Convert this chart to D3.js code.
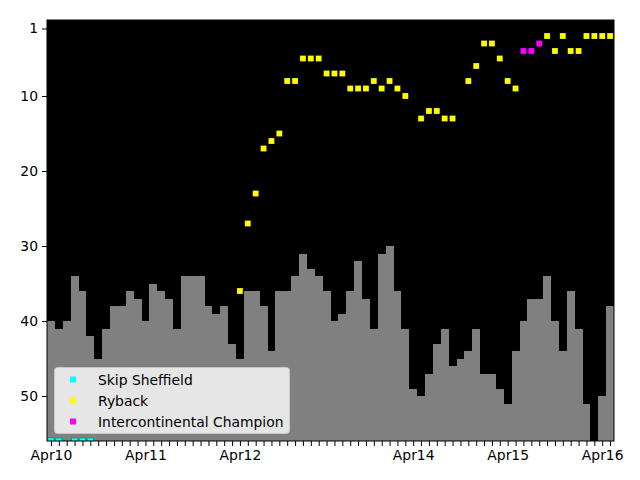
<!DOCTYPE html>
<html>
<head>
<meta charset="utf-8">
<script src="https://cdn.jsdelivr.net/npm/d3@7"></script>
<style>
  html, body { margin: 0; padding: 0; background: #ffffff; }
  svg { display: block; }
  text { font-family: "DejaVu Sans", sans-serif; }
</style>
</head>
<body>
<svg id="chart" width="640" height="480"></svg>
<script>
// ---------- data ----------
const months = [
  "Apr10","May10","Jun10","Jul10","Aug10","Sep10","Oct10","Nov10","Dec10","Jan11","Feb11","Mar11",
  "Apr11","May11","Jun11","Jul11","Aug11","Sep11","Oct11","Nov11","Dec11","Jan12","Feb12","Mar12",
  "Apr12","May12","Jun12","Jul12","Aug12","Sep12","Oct12","Nov12","Dec12","Jan13","Feb13",
  "May13","Jun13","Jul13","Aug13","Sep13","Oct13","Nov13","Dec13","Jan14","Feb14","Mar14",
  "Apr14","May14","Jun14","Jul14","Aug14","Sep14","Oct14","Nov14","Dec14","Jan15","Feb15","Mar15",
  "Apr15","May15","Jun15","Jul15","Aug15","Sep15","Oct15","Nov15","Dec15","Jan16","Feb16","Mar16",
  "Apr16","May16"
];

// grey bars: monthly overall rank
const barRank = [
  40,41,40,34,36,42,45,41,38,38,
  36,37,40,35,36,37,41,34,34,34,
  38,39,38,43,45,36,36,38,44,36,
  36,34,31,33,34,36,40,39,36,32,
  37,41,31,30,36,41,49,50,47,43,
  41,46,45,44,41,47,47,49,51,44,
  40,37,37,34,40,44,36,41,51,null,
  50,38
];

const skipSheffield = [
  56,56,null,56,56,56
];

const ryback = [
  null,null,null,null,null,null,null,null,null,null,
  null,null,null,null,null,null,null,null,null,null,
  null,null,null,null,36,27,23,17,16,15,
  8,8,5,5,5,7,7,7,9,9,
  9,8,9,8,9,10,null,13,12,12,
  13,13,null,8,6,3,3,5,8,9,
  null,null,null,2,4,2,4,4,2,2,
  2,2
];

const icChampion = [
  null,null,null,null,null,null,null,null,null,null,
  null,null,null,null,null,null,null,null,null,null,
  null,null,null,null,null,null,null,null,null,null,
  null,null,null,null,null,null,null,null,null,null,
  null,null,null,null,null,null,null,null,null,null,
  null,null,null,null,null,null,null,null,null,null,
  4,4,3
];

const yTicks = [1, 10, 20, 30, 40, 50];
const seriesNames = ["Skip Sheffield", "Ryback", "Intercontinental Champion"];
const seriesColors = ["#00ffff", "#ffff00", "#ff00ff"];

// ---------- layout ----------
const svg = d3.select("#chart");
const L = 47, R = 614, T = 20, B = 441;

const x = d3.scaleLinear().domain([-0.5, months.length - 0.5]).range([L, R]);
const y = d3.scaleLinear().domain([56, 0]).range([B, T + 1]);

svg.append("rect").attr("width", 640).attr("height", 480).attr("fill", "#ffffff");

const defs = svg.append("defs");
defs.append("clipPath").attr("id", "plotclip")
  .append("rect").attr("x", L).attr("y", T).attr("width", R - L).attr("height", B - T);

svg.append("rect").attr("x", L).attr("y", T).attr("width", R - L).attr("height", B - T)
  .attr("fill", "#000000");

const plot = svg.append("g").attr("clip-path", "url(#plotclip)");

// bars
const barData = barRank.map((v, i) => ({ i, v })).filter(d => d.v != null);
plot.append("g").selectAll("rect").data(barData).join("rect")
  .attr("x", d => x(d.i - 0.5))
  .attr("width", d => x(d.i + 0.5) - x(d.i - 0.5))
  .attr("y", d => y(d.v))
  .attr("height", d => y(56) - y(d.v))
  .attr("fill", "#808080")
  .attr("shape-rendering", "crispEdges");

// points
const allSeries = [skipSheffield, ryback, icChampion];
const ms = 6;
allSeries.forEach((arr, k) => {
  const pts = arr.map((v, i) => ({ i, v })).filter(d => d.v != null);
  plot.append("g").selectAll("rect").data(pts).join("rect")
    .attr("x", d => x(d.i) - ms / 2)
    .attr("y", d => y(d.v) - ms / 2)
    .attr("width", ms).attr("height", ms)
    .attr("fill", seriesColors[k])
    .attr("stroke", "rgba(0,0,0,0.35)")
    .attr("stroke-width", 0.6);
});

// frame
svg.append("rect").attr("x", L).attr("y", T).attr("width", R - L).attr("height", B - T)
  .attr("fill", "none").attr("stroke", "#000").attr("stroke-width", 1);

// axes
const fontSize = "13.9px";
const xAxis = d3.axisBottom(x)
  .tickValues(d3.range(months.length))
  .tickFormat(i => months[i].startsWith("Apr") ? months[i] : "")
  .tickSize(5).tickSizeOuter(0).tickPadding(4);
const gx = svg.append("g").attr("transform", `translate(0,${B})`).call(xAxis);
gx.select(".domain").remove();
gx.selectAll("text").attr("font-size", fontSize).attr("font-family", "DejaVu Sans").attr("fill", "#000");
gx.selectAll("line").attr("stroke", "#000");

const yAxis = d3.axisLeft(y).tickValues(yTicks).tickSize(5).tickSizeOuter(0).tickPadding(4);
const gy = svg.append("g").attr("transform", `translate(${L},0)`).call(yAxis);
gy.select(".domain").remove();
gy.selectAll("text").attr("font-size", fontSize).attr("font-family", "DejaVu Sans").attr("fill", "#000");
gy.selectAll("line").attr("stroke", "#000");

// legend
const lg = svg.append("g");
lg.append("rect").attr("x", 54.5).attr("y", 367.5).attr("width", 235).attr("height", 66)
  .attr("rx", 3).attr("ry", 3)
  .attr("fill", "rgba(255,255,255,0.8)")
  .attr("stroke", "rgba(204,204,204,0.8)").attr("stroke-width", 1);
seriesNames.forEach((name, k) => {
  const cy = 379.5 + k * 21;
  lg.append("rect").attr("x", 73 - 3).attr("y", cy - 3).attr("width", 6).attr("height", 6)
    .attr("fill", seriesColors[k]);
  lg.append("text").attr("x", 98).attr("y", cy).attr("dy", "0.36em")
    .attr("font-size", fontSize).attr("fill", "#000").text(name);
});
</script>
</body>
</html>
